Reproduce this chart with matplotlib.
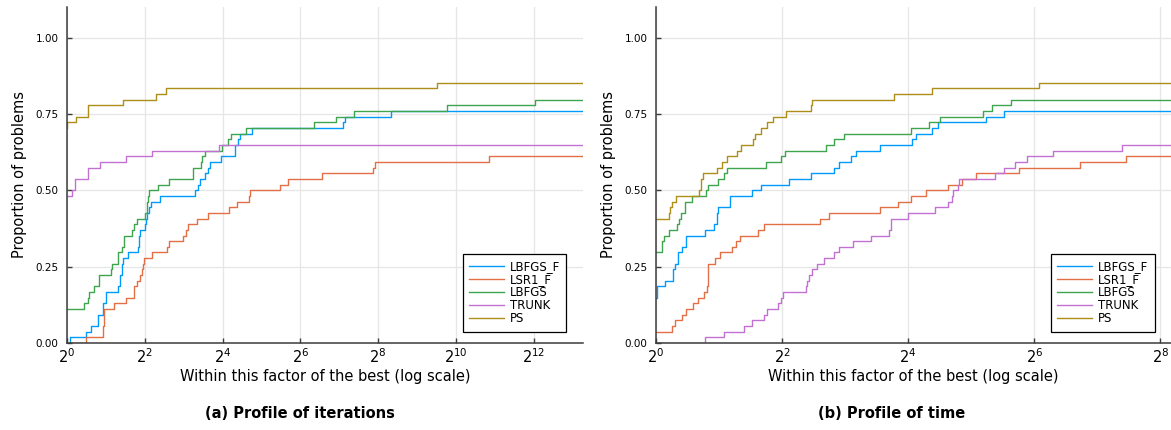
import numpy as np
import matplotlib
matplotlib.use("Agg")
import matplotlib.pyplot as plt

# number of problems in the test set (proportion = count / N_PROB)
N_PROB = 54

solvers = ["LBFGS_F", "LSR1_F", "LBFGS", "TRUNK", "PS"]
colors = ["#009AFA", "#E36F47", "#3EA44E", "#C271D2", "#AC8E18"]

# ---- (a) iterations : log2 of ratio where the step happens, and solved count
it_lbfgsf_x = [0, 0.08, 0.48, 0.63, 0.79, 0.93, 1.00, 1.32, 1.36, 1.41, 1.45, 1.58, 1.82, 1.84, 1.88,
               2.01, 2.03, 2.07, 2.10, 2.15, 2.39, 3.29, 3.38, 3.42, 3.56, 3.62, 3.68, 3.97, 4.32,
               4.40, 4.45, 4.77, 7.10, 7.14, 8.33]
it_lbfgsf_k = [0, 1, 2, 3, 5, 7, 9, 10, 12, 14, 15, 16, 17, 19, 20, 21, 22, 23, 24, 25, 26, 27, 28,
               29, 30, 31, 32, 33, 35, 36, 37, 38, 39, 40, 41]

it_lsr1_x = [0, 0.48, 0.93, 0.95, 1.22, 1.51, 1.72, 1.81, 1.88, 1.92, 1.96, 1.99, 2.19, 2.58, 2.63,
             2.99, 3.06, 3.11, 3.35, 3.63, 4.17, 4.36, 4.68, 4.70, 5.48, 5.69, 6.57, 7.86, 7.93, 10.85]
it_lsr1_k = [0, 1, 3, 6, 7, 8, 10, 11, 12, 13, 14, 15, 16, 17, 18, 19, 20, 21, 22, 23, 24, 25, 26,
             27, 28, 29, 30, 31, 32, 33]

it_lbfgs_x = [0, 0.45, 0.55, 0.57, 0.69, 0.83, 1.13, 1.17, 1.32, 1.42, 1.47, 1.68, 1.72, 1.79, 2.01,
              2.05, 2.08, 2.12, 2.33, 2.63, 3.25, 3.45, 3.48, 3.55, 3.99, 4.15, 4.21, 4.60, 6.35,
              6.91, 7.37, 9.78, 12.03]
it_lbfgs_k = [6, 7, 8, 9, 10, 12, 13, 14, 16, 17, 19, 20, 21, 22, 23, 25, 26, 27, 28, 29, 31, 32, 33,
              34, 35, 36, 37, 38, 39, 40, 41, 42, 43]

it_trunk_x = [0, 0.12, 0.21, 0.53, 0.85, 1.51, 2.19, 3.92]
it_trunk_k = [26, 27, 29, 31, 32, 33, 34, 35]

it_ps_x = [0, 0.01, 0.22, 0.53, 1.43, 2.28, 2.55, 9.51]
it_ps_k = [38, 39, 40, 42, 43, 44, 45, 46]

# ---- (b) time
tm_lbfgsf_x = [0, 0.01, 0.14, 0.27, 0.30, 0.35, 0.41, 0.47, 0.78, 0.92, 0.96, 0.99, 1.17, 1.53, 1.66,
               2.11, 2.46, 2.82, 2.90, 3.10, 3.18, 3.55, 4.06, 4.13, 4.38, 4.48, 5.23, 5.52]
tm_lbfgsf_k = [8, 10, 11, 13, 14, 16, 17, 19, 20, 21, 23, 24, 26, 27, 28, 29, 30, 31, 32, 33, 34, 35,
               36, 37, 38, 39, 40, 41]

tm_lsr1_x = [0, 0.25, 0.30, 0.42, 0.47, 0.59, 0.67, 0.76, 0.81, 0.82, 0.83, 0.94, 1.02, 1.21, 1.27,
             1.34, 1.62, 1.71, 2.60, 2.75, 3.55, 3.84, 4.04, 4.29, 4.64, 4.85, 5.07, 5.76, 6.73, 7.46]
tm_lsr1_k = [2, 3, 4, 5, 6, 7, 8, 9, 10, 11, 14, 15, 16, 17, 18, 19, 20, 21, 22, 23, 24, 25, 26, 27,
             28, 29, 30, 31, 32, 33]

tm_lbfgs_x = [0, 0.09, 0.13, 0.20, 0.33, 0.36, 0.39, 0.46, 0.57, 0.79, 0.83, 0.99, 1.08, 1.13, 1.75,
              1.98, 2.04, 2.69, 2.83, 2.98, 4.04, 4.33, 4.51, 5.19, 5.33, 5.63]
tm_lbfgs_k = [16, 18, 19, 20, 21, 22, 23, 25, 26, 27, 28, 29, 30, 31, 32, 33, 34, 35, 36, 37, 38, 39,
              40, 41, 42, 43]

tm_trunk_x = [0, 0.78, 1.08, 1.39, 1.52, 1.72, 1.76, 1.94, 1.98, 2.01, 2.38, 2.40, 2.43, 2.48, 2.55,
              2.66, 2.83, 2.90, 3.13, 3.41, 3.70, 3.73, 4.00, 4.43, 4.63, 4.69, 4.71, 4.79, 4.81,
              5.38, 5.52, 5.69, 5.88, 6.30, 7.40]
tm_trunk_k = [0, 1, 2, 3, 4, 5, 6, 7, 8, 9, 10, 11, 12, 13, 14, 15, 16, 17, 18, 19, 20, 22, 23, 24,
              25, 26, 27, 28, 29, 30, 31, 32, 33, 34, 35]

tm_ps_x = [0, 0.20, 0.23, 0.26, 0.32, 0.69, 0.71, 0.75, 0.96, 1.05, 1.12, 1.28, 1.35, 1.54, 1.57,
           1.66, 1.76, 1.85, 2.07, 2.46, 2.47, 3.78, 4.38, 6.08]
tm_ps_k = [22, 23, 24, 25, 26, 27, 29, 30, 31, 32, 33, 34, 35, 36, 37, 38, 39, 40, 41, 42, 43, 44,
           45, 46]

panels = [
    {"xs": [it_lbfgsf_x, it_lsr1_x, it_lbfgs_x, it_trunk_x, it_ps_x],
     "ks": [it_lbfgsf_k, it_lsr1_k, it_lbfgs_k, it_trunk_k, it_ps_k],
     "xmax": 13.27, "ticks": [0, 2, 4, 6, 8, 10, 12],
     "caption": "(a) Profile of iterations"},
    {"xs": [tm_lbfgsf_x, tm_lsr1_x, tm_lbfgs_x, tm_trunk_x, tm_ps_x],
     "ks": [tm_lbfgsf_k, tm_lsr1_k, tm_lbfgs_k, tm_trunk_k, tm_ps_k],
     "xmax": 8.17, "ticks": [0, 2, 4, 6, 8],
     "caption": "(b) Profile of time"},
]

plt.rcParams['font.family'] = 'DejaVu Sans'
plt.rcParams['mathtext.fontset'] = 'dejavusans'

fig = plt.figure(figsize=(11.71, 4.30), dpi=100)
axes_pos = [[67 / 1171, 87 / 430, 516 / 1171, 336 / 430],
            [656 / 1171, 87 / 430, 515 / 1171, 336 / 430]]
caption_x = [300 / 1171, 892 / 1171]

for p, panel in enumerate(panels):
    ax = fig.add_axes(axes_pos[p])
    xmax = 2.0 ** panel["xmax"]

    for i in range(len(solvers)):
        x = list(2.0 ** np.array(panel["xs"][i])) + [xmax]
        y = list(np.array(panel["ks"][i]) / N_PROB)
        y = y + [y[-1]]
        ax.step(x, y, where='post', color=colors[i], lw=1.0, label=solvers[i])

    ax.set_xscale('log', base=2)
    ax.set_xlim(1, xmax)
    ax.set_ylim(0, 1.1)
    ax.set_xticks([2.0 ** e for e in panel["ticks"]])
    ax.set_xticklabels(['$2^{%d}$' % e for e in panel["ticks"]])
    ax.xaxis.set_minor_locator(matplotlib.ticker.NullLocator())
    ax.set_yticks([0, 0.25, 0.5, 0.75, 1.0])
    ax.set_yticklabels(['0.00', '0.25', '0.50', '0.75', '1.00'])

    ax.grid(True, color='#e6e6e6', lw=0.9)
    ax.set_axisbelow(True)
    for s in ['top', 'right']:
        ax.spines[s].set_visible(False)
    for s in ['left', 'bottom']:
        ax.spines[s].set_color('#3c3c3c')
        ax.spines[s].set_linewidth(1.1)
    ax.tick_params(axis='both', direction='in', length=3.5, width=1, color='#3c3c3c')
    ax.tick_params(axis='x', labelsize=10.5, pad=3)
    ax.tick_params(axis='y', labelsize=7.5, pad=6)

    ax.set_xlabel('Within this factor of the best (log scale)', fontsize=10.5, labelpad=2)
    ax.set_ylabel('Proportion of problems', fontsize=10.5, labelpad=6)

    leg = ax.legend(loc='lower right', bbox_to_anchor=(0.968, 0.033), fontsize=8.5,
                    fancybox=False, framealpha=1, edgecolor='black', borderaxespad=0,
                    handlelength=3.0, handletextpad=0.45, labelspacing=0.0, borderpad=0.55)
    leg.get_frame().set_linewidth(0.9)

    fig.text(caption_x[p], 1 - 413 / 430, panel["caption"], ha='center', va='center',
             fontsize=10.5, fontweight='bold')

fig.savefig('out.png', dpi=100)
